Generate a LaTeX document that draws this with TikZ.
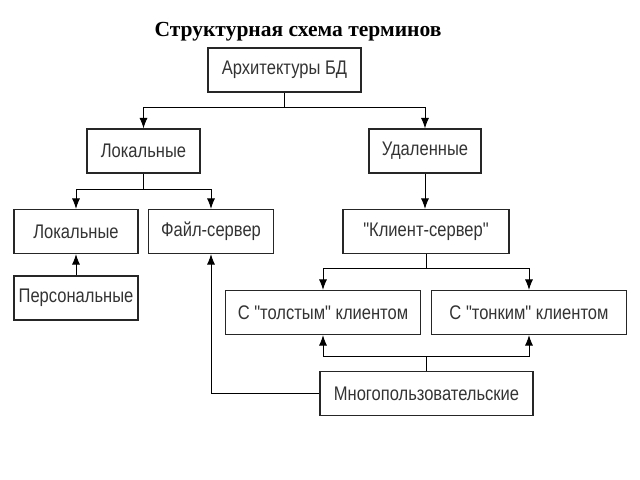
\documentclass[tikz,border=0pt]{standalone}
\usepackage{fontspec}
\setmainfont{Liberation Serif}
\newfontfamily\boxfont[FakeStretch=0.84]{Liberation Sans}
\usetikzlibrary{arrows.meta}

\begin{document}
\begin{tikzpicture}[x=0.025cm,y=-0.025cm,>={Latex[length=2.6mm,width=2mm]},line width=0.6pt]
    \tikzstyle{term}=[rectangle,draw=black!85,line width=0.9pt,minimum height=1.1cm,inner sep=0pt,font=\boxfont\fontsize{14}{16}\selectfont,text=black!80]

    \useasboundingbox (0,0) rectangle (640,480);

    \node [font=\bfseries\fontsize{15.3}{18}\selectfont] at (298,32) (title) {Структурная схема терминов};

    \node [term, minimum width=3.83cm] at (284.5,70) (arch) {Архитектуры БД};

    \node [term, minimum width=2.83cm] at (143.5,151) (local) {Локальные};
    \node [term, minimum width=2.8cm] at (425,151) (remote) {Удаленные};

    \node [term, minimum width=3.1cm] at (76,231.5) (local2) {Локальные};
    \node [term, minimum width=3.13cm] at (211,231.5) (fileserv) {Файл-сервер};
    \node [term, minimum width=4.15cm] at (426,231.5) (clserv) {"Клиент-сервер"};

    \node [term, minimum width=3.1cm] at (76,298) (personal) {Персональные};
    \node [term, minimum width=4.88cm] at (323,312.5) (thick) {С "толстым" клиентом};
    \node [term, minimum width=4.88cm] at (529,312.5) (thin) {С "тонким" клиентом};

    \node [term, minimum width=5.33cm] at (426.5,393.5) (multi) {Многопользовательские};

    % branch points
    \coordinate (j1) at (284.5,107);
    \coordinate (j2) at (143.5,189);
    \coordinate (j3) at (426,268);
    \coordinate (j4) at (426.5,356);

    \draw (arch) -- (j1);
    \draw [->] (j1) -| (local);
    \draw [->] (j1) -| (remote);

    \draw (local) -- (j2);
    \draw [->] (j2) -| (local2);
    \draw [->] (j2) -| (fileserv);

    \draw [->] (remote) -- (remote |- clserv.north);

    \draw (clserv) -- (j3);
    \draw [->] (j3) -| (thick);
    \draw [->] (j3) -| (thin);

    \draw [->] (personal) -- (local2);

    \draw (multi) -- (j4);
    \draw [->] (j4) -| (thick);
    \draw [->] (j4) -| (thin);
    \draw [->] (multi.west) -| (fileserv.south);

\end{tikzpicture}
\end{document}
